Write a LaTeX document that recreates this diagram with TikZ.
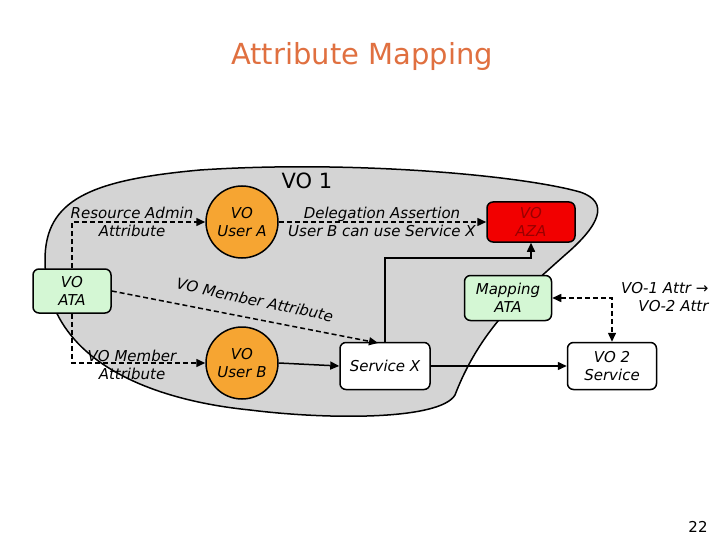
\documentclass[tikz,border=0pt]{standalone}
\usepackage{fontspec}
\setmainfont{DejaVu Sans}
\usetikzlibrary{arrows.meta}
\definecolor{ttl}{HTML}{E07040}
\definecolor{orng}{HTML}{F6A532}
\definecolor{grn}{HTML}{D4F7D4}
\begin{document}
\begin{tikzpicture}[x=1pt,y=-1pt,
  lbl/.style={font=\fontsize{15}{18}\selectfont\itshape, align=center},
  box/.style={draw, line width=1.5pt, rounded corners=6pt, align=center, font=\fontsize{15}{18}\selectfont\itshape},
  circ/.style={draw, line width=1.5pt, circle, fill=orng, minimum size=72pt, inner sep=0pt, align=center, font=\fontsize{15}{18}\selectfont\itshape},
  dl/.style={line width=1.5pt, dash pattern=on 5pt off 3pt, -{Triangle[length=9pt,width=8pt]}},
  sl/.style={line width=1.5pt, -{Triangle[length=9pt,width=8pt]}}]
\useasboundingbox (0,0) rectangle (720,540);
\fill[white] (0,0) rectangle (720,540);
\node[text=ttl, font=\fontsize{29}{34}\selectfont] (title) at (362,57) {Attribute Mapping};
\draw[line width=1.5pt, fill=black!17] (45,260) .. controls (45,200) and (90,180) .. (200,170)
  .. controls (350,160) and (520,175) .. (580,192)
  .. controls (610,202) and (600,225) .. (565,255)
  .. controls (520,295) and (480,330) .. (455,395)
  .. controls (440,420) and (330,420) .. (250,410)
  .. controls (150,400) and (45,360) .. (45,260) -- cycle;
\node[font=\fontsize{21}{24}\selectfont] (vo1) at (307,181) {VO 1};
\node[box, fill=grn, minimum width=78pt, minimum height=44pt] (ata) at (72,291) {VO\\ATA};
\node[circ] (ua) at (242,222) {VO\\User A};
\node[circ] (ub) at (242,363) {VO\\User B};
\node[box, fill=red!95!black, minimum width=88pt, minimum height=40pt, text=red!60!black] (aza) at (531,222) {VO\\AZA};
\node[box, fill=grn, minimum width=87pt, minimum height=45pt] (map) at (508,298) {Mapping\\ATA};
\node[box, fill=white, minimum width=90pt, minimum height=47pt] (sx) at (385,366) {Service X};
\node[box, fill=white, minimum width=89pt, minimum height=47pt] (vo2) at (612,366) {VO 2\\Service};
\draw[dl] (ata.north) |- (ua.west);
\node[lbl] (l1) at (132,222) {Resource Admin\\Attribute};
\draw[dl] (ata.south) |- (ub.west);
\node[lbl] (l2) at (132,365) {VO Member\\Attribute};
\coordinate (sxt) at (378,343);
\draw[dl] (ata.east) -- (sxt);
\node[lbl, rotate=-12] (l3) at (255,300) {VO Member Attribute};
\draw[dl] (ua.east) -- (aza.west);
\node[lbl] (l4) at (382,222) {Delegation Assertion\\User B can use Service X};
\coordinate (c1) at (385,258);
\draw[sl] (sx.north -| c1) -- (c1) -| (aza.south);
\draw[sl] (ub.east) -- (sx.west);
\draw[sl] (sx.east) -- (vo2.west);
\draw[line width=1.5pt, dash pattern=on 5pt off 3pt, {Triangle[length=9pt,width=8pt]}-{Triangle[length=9pt,width=8pt]}] (map.east) -| (vo2.north);
\node[lbl, align=right, anchor=east] (l5) at (712,297) {VO-1 Attr →\\VO-2 Attr};
\node[font=\fontsize{15}{18}\selectfont] (pg) at (698,527) {22};
\end{tikzpicture}
\end{document}
